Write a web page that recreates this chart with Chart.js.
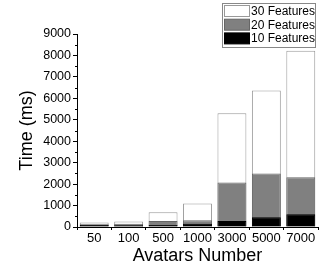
<!DOCTYPE html>
<html>
<head>
<meta charset="utf-8">
<script src="https://cdn.jsdelivr.net/npm/chart.js@4.4.0/dist/chart.umd.min.js"></script>
<style>
  html, body { margin: 0; padding: 0; background: #fff; }
  #wrap { width: 328px; height: 267px; }
</style>
</head>
<body>
<div id="wrap"><canvas id="chart" width="328" height="267"></canvas></div>
<script>
// data
const avatars = ["50", "100", "500", "1000", "3000", "5000", "7000"];
const feat10 = [100, 80, 90, 150, 280, 460, 590];
const feat20 = [130, 150, 280, 320, 2080, 2500, 2320];
const feat30 = [210, 260, 690, 1100, 5300, 6370, 8220];
const yTicks = [0, 1000, 2000, 3000, 4000, 5000, 6000, 7000, 8000, 9000];

const FONT = "'Liberation Sans', Arial, sans-serif";

const legendItems = [
  {label: "30 Features", fill: "#ffffff", stroke: "#999999"},
  {label: "20 Features", fill: "#808080", stroke: "#666666"},
  {label: "10 Features", fill: "#000000", stroke: "#000000"},
];

// small minor ticks on y axis + boxed legend
const extras = {
  id: "extras",
  afterDraw(chart) {
    const ctx = chart.ctx;
    const y = chart.scales.y;
    ctx.save();
    ctx.strokeStyle = "#000";
    ctx.lineWidth = 1;
    for (let v = 500; v < 9000; v += 1000) {
      const py = Math.round(y.getPixelForValue(v)) + 0.5;
      ctx.beginPath();
      ctx.moveTo(y.right - 2, py);
      ctx.lineTo(y.right, py);
      ctx.stroke();
    }

    // legend box
    const bx = 222.5, by = 3.5, bw = 93, bh = 44;
    ctx.fillStyle = "#fff";
    ctx.fillRect(bx, by, bw, bh);
    ctx.strokeStyle = "#888";
    ctx.strokeRect(bx, by, bw, bh);
    ctx.font = "12px " + FONT;
    ctx.textBaseline = "middle";
    legendItems.forEach((it, i) => {
      const sy = 5.5 + i * 13.7;
      ctx.fillStyle = it.fill;
      ctx.fillRect(224.5, sy, 25, 11);
      ctx.strokeStyle = it.stroke;
      ctx.strokeRect(224.5, sy, 25, 11);
      ctx.fillStyle = "#000";
      ctx.fillText(it.label, 251, sy + 6);
    });
    ctx.restore();
  },
};

new Chart(document.getElementById("chart"), {
  type: "bar",
  data: {
    labels: avatars,
    datasets: [
      {label: "10 Features", data: feat10, backgroundColor: "#000000", borderColor: "#000000", borderWidth: 1},
      {label: "20 Features", data: feat20, backgroundColor: "#808080", borderColor: "#666666", borderWidth: 1},
      {label: "30 Features", data: feat30, backgroundColor: "#ffffff", borderColor: "#999999", borderWidth: 1},
    ],
  },
  options: {
    responsive: false,
    animation: false,
    devicePixelRatio: 1,
    barPercentage: 0.84,
    categoryPercentage: 1,
    layout: {padding: {top: 34, right: 10, left: 0, bottom: 0}},
    plugins: {
      legend: {display: false},
      tooltip: {enabled: false},
    },
    scales: {
      x: {
        stacked: true,
        afterFit: s => { s.height = 40; },
        border: {display: true, color: "#000", width: 1},
        grid: {offset: true, drawOnChartArea: false, drawTicks: true, tickLength: 3, color: "#000"},
        ticks: {color: "#000", padding: 1, maxRotation: 0, font: {family: FONT, size: 13}},
        title: {display: true, text: "Avatars Number", color: "#000", padding: {top: 0, bottom: 0}, font: {family: FONT, size: 18}},
      },
      y: {
        stacked: false,
        min: 0,
        max: 9000,
        afterFit: s => { s.width = 77; },
        afterBuildTicks: s => { s.ticks = yTicks.map(v => ({value: v})); },
        border: {display: true, color: "#000", width: 1},
        grid: {drawOnChartArea: false, drawTicks: true, tickLength: 4, color: "#000"},
        ticks: {color: "#000", padding: 2, font: {family: FONT, size: 12.5}, callback: v => String(v)},
        title: {display: true, text: "Time (ms)", color: "#000", padding: {top: 16, bottom: 0}, font: {family: FONT, size: 18}},
      },
    },
  },
  plugins: [extras],
});
</script>
</body>
</html>
